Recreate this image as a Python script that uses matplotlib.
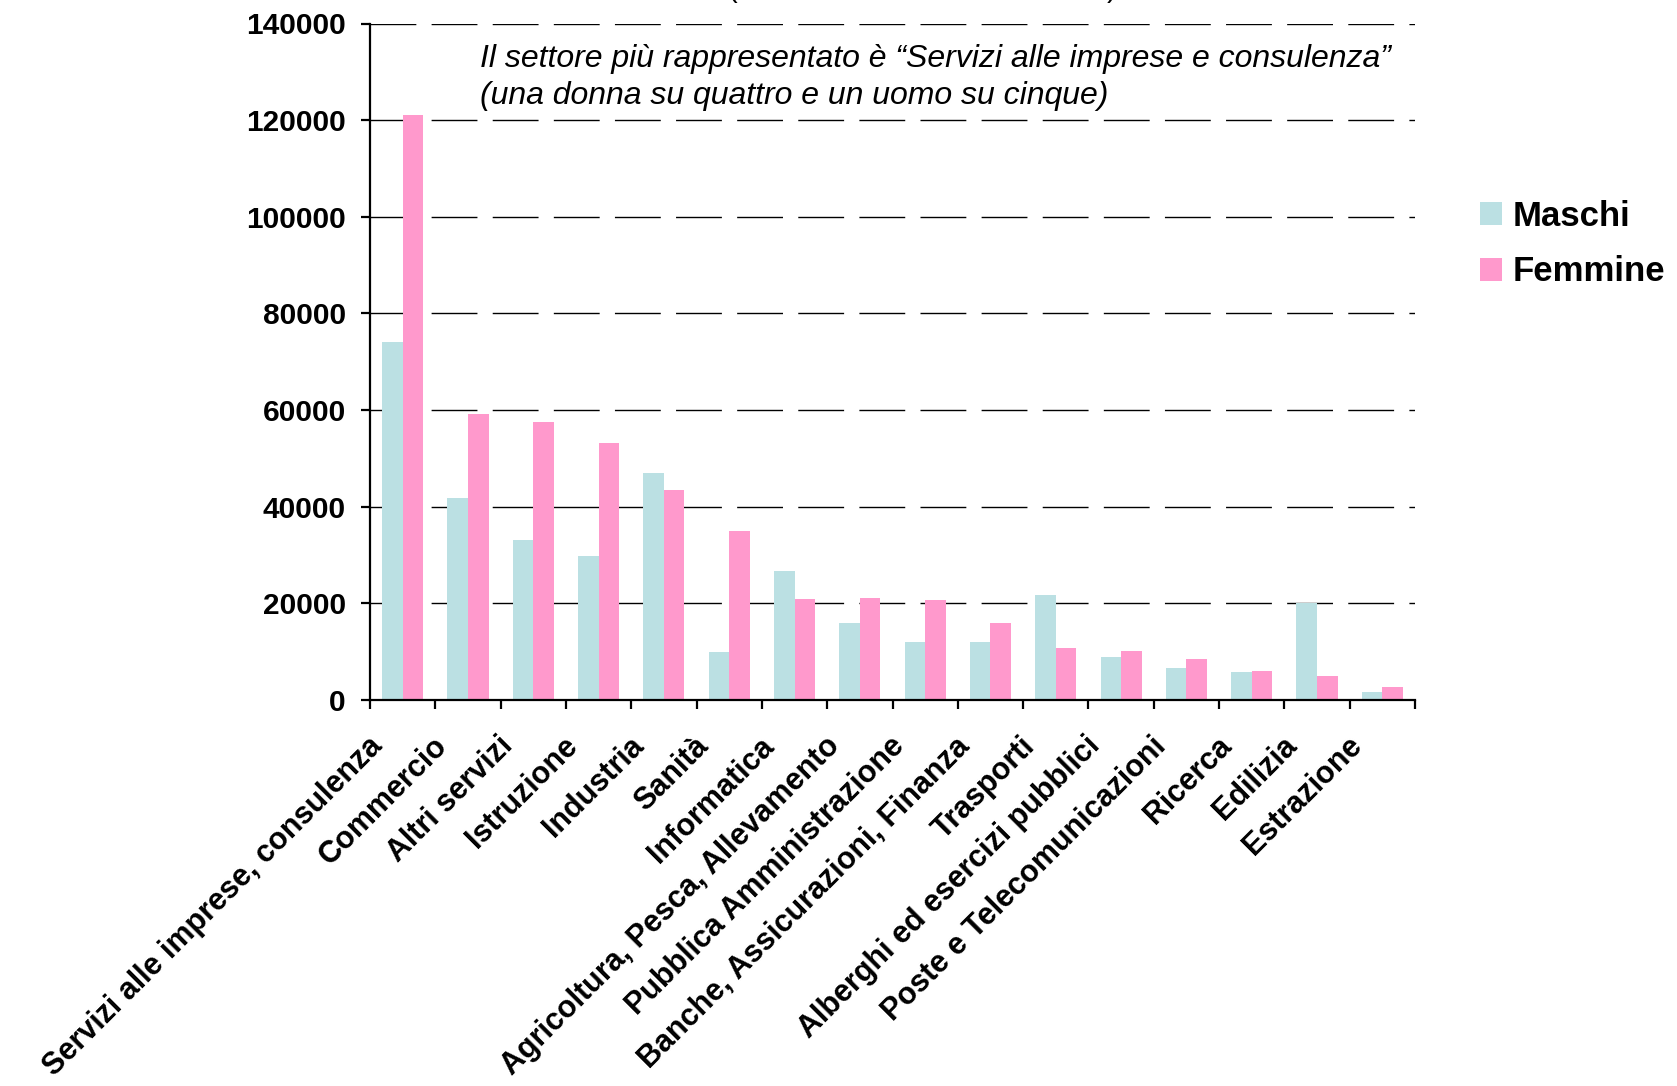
import numpy as np
import matplotlib
matplotlib.use("Agg")
import matplotlib.pyplot as plt
from matplotlib.transforms import ScaledTranslation

plt.rcParams['font.family'] = ['Liberation Sans', 'DejaVu Sans']

settori = ["Servizi alle imprese, consulenza", "Commercio", "Altri servizi",
           "Istruzione", "Industria", "Sanità", "Informatica",
           "Agricoltura, Pesca, Allevamento", "Pubblica Amministrazione",
           "Banche, Assicurazioni, Finanza", "Trasporti",
           "Alberghi ed esercizi pubblici", "Poste e Telecomunicazioni",
           "Ricerca", "Edilizia", "Estrazione"]
maschi = [74000, 41700, 33200, 29900, 46900, 9900, 26600, 16000,
          12000, 12000, 21700, 9000, 6700, 5700, 20100, 1600]
femmine = [121000, 59200, 57500, 53200, 43400, 34900, 20800, 21100,
           20700, 16000, 10700, 10100, 8400, 6100, 5000, 2700]
yticks = [0, 20000, 40000, 60000, 80000, 100000, 120000, 140000]

col_m = "#BBE0E3"
col_f = "#FF99CC"

fig = plt.figure(figsize=(16.77, 10.86), dpi=100)
ax = fig.add_axes([370/1677, 1 - 700/1086, (1415-370)/1677, (700-23.5)/1086])

x = np.arange(len(settori)) + 0.5
w = 0.315
ax.bar(x - w/2, maschi, w, color=col_m, label="Maschi", zorder=2)
ax.bar(x + w/2, femmine, w, color=col_f, label="Femmine", zorder=2)

ax.set_xlim(0, len(settori))
ax.set_ylim(0, 140000)

# dashed horizontal grid
for v in yticks[1:]:
    ax.axhline(v, color="black", lw=1.0, dashes=(33, 11), zorder=1)

for s in ["top", "right"]:
    ax.spines[s].set_visible(False)
for s in ["left", "bottom"]:
    ax.spines[s].set_linewidth(1.6)

ax.set_yticks(yticks)
ax.set_yticklabels([str(v) for v in yticks], fontsize=21.5, fontweight="bold")
ax.tick_params(axis="y", direction="out", length=6.5, width=1.6, pad=11)

# tick marks on category boundaries, labels at centres
ax.set_xticks(np.arange(len(settori) + 1), minor=True)
ax.tick_params(axis="x", which="minor", direction="out", length=6.5, width=1.6)
ax.set_xticks(x)
ax.set_xticklabels(settori, fontsize=22, fontweight="bold", rotation=45,
                   ha="right", va="center", rotation_mode="anchor")
ax.tick_params(axis="x", which="major", length=0, pad=30)
off = ScaledTranslation(-0.25, 0, fig.dpi_scale_trans)
for lab in ax.get_xticklabels():
    lab.set_transform(lab.get_transform() + off)

fig.text(480/1677, 1 - 59/1086,
         "Il settore più rappresentato è “Servizi alle imprese e consulenza”",
         fontsize=23, style="italic", va="center", ha="left")
fig.text(480/1677, 1 - 96/1086,
         "(una donna su quattro e un uomo su cinque)",
         fontsize=23, style="italic", va="center", ha="left")

# remains of the title cut by the top edge
fig.text(732/1677, 1.003, "(", fontsize=21, va="baseline", ha="center")
fig.text(1112/1677, 1.003, ")", fontsize=21, va="baseline", ha="center")

fig.legend(loc="upper left", bbox_to_anchor=(1466/1677, 1 - 186/1086),
           frameon=False, prop={"size": 25, "weight": "bold"},
           handlelength=0.65, handleheight=0.65, handletextpad=0.3,
           labelspacing=0.65, borderaxespad=0)

fig.savefig("out.png", dpi=100)
